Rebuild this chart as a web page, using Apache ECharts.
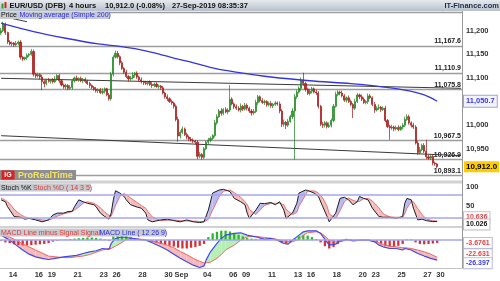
<!DOCTYPE html>
<html><head><meta charset="utf-8">
<script src="https://cdn.jsdelivr.net/npm/echarts@6/dist/echarts.min.js"></script>
<style>html,body{margin:0;padding:0;background:#fff;}#c{width:500px;height:281px;}</style>
</head><body><div id="c"></div>
<script>
// ---------- DATA ----------
const firstOpen = 11195;
const closes = [
11200,11214,11196,11176,11172,11174,11170,11173,11176,11144,
11140,11143,11148,11150,11156,11108,11104,11107,11102,11092,
11088,11095,11093,11096,11092,11098,11105,11094,11085,11081,
11084,11078,11080,11094,11100,11096,11099,11094,11097,11093,
11088,11084,11080,11076,11073,11075,11069,11072,11077,11064,
11056,11108,11144,11152,11145,11132,11120,11112,11103,11098,
11100,11106,11110,11102,11096,11092,11090,11088,11091,11086,
11084,11087,11082,11083,11079,11068,11060,11056,11050,11047,
11040,11012,10977,10985,10992,10980,10975,10970,10968,10966,
10964,10934,10938,10932,10950,10964,10968,10972,10978,11005,
11018,11030,11025,11033,11028,11032,11055,11045,11039,11036,
11032,11040,11034,11042,11036,11030,11026,11029,11048,11060,
11052,11048,11050,11043,11046,11041,11044,11047,11045,11030,
11002,11006,11000,11008,11018,11030,11060,11070,11078,11095,
11088,11076,11067,11072,11077,11070,11068,11040,11002,11000,
11005,10997,11000,11010,11040,11065,11070,11068,11062,11053,
11058,11050,11044,11036,11050,11064,11060,11055,11048,11050,
11062,11058,11044,11032,11036,11038,11033,11036,11010,10997,
10994,10996,10992,10995,10991,10996,11000,11012,11018,11005,
11000,10996,10962,10942,10948,10957,10945,10933,10930,10934,
10920,10918,10912];
const wickUp = [
6,5,3,2,4,3,2,5,3,4, 3,2,4,3,5,4,3,4,3,5,
4,3,5,2,4,6,3,4,2,3, 4,3,5,4,3,5,2,4,3,4,
3,4,2,3,5,3,4,6,3,2, 4,5,4,6,5,3,4,3,5,3,
4,6,3,4,3,5,2,4,3,4, 5,3,4,3,2,4,3,5,3,4,
3,4,6,4,5,3,4,3,5,4, 3,4,5,3,4,3,5,4,3,6,
5,4,6,3,5,4,30,4,3,5, 4,6,3,5,4,3,4,5,6,4,
3,5,4,3,4,5,3,4,3,5, 4,6,3,5,4,6,6,5,4,6,
16,4,3,5,4,3,5,4,3,5, 4,3,6,4,5,6,4,3,5,4,
3,5,4,3,6,4,3,5,4,3, 5,4,3,5,4,6,3,4,5,3,
4,5,3,4,5,3,4,6,5,4, 3,5,4,5,6,4,5,24,4,3,
4,3,2];
const wickDown = [
4,3,5,4,3,5,4,3,4,5, 4,3,5,4,3,5,4,3,5,18,
8,4,3,5,4,3,4,5,3,4, 5,4,3,5,4,3,4,3,5,4,
3,5,4,3,4,5,3,4,5,3, 4,4,5,3,4,5,3,4,3,5,
4,3,5,4,3,4,5,3,4,3, 5,4,3,5,4,3,4,5,3,4,
5,4,12,5,4,3,5,4,3,4, 5,6,4,5,4,3,5,4,3,4,
4,3,5,4,3,5,4,3,5,4, 3,5,4,3,5,4,6,4,3,5,
4,3,5,4,3,4,5,3,4,5, 6,5,8,4,3,5,103,4,3,5,
4,5,3,4,5,3,4,5,4,6, 5,4,3,5,4,3,4,5,3,4,
5,3,4,21,4,3,5,4,3,4, 5,3,4,6,3,4,5,3,4,3,
25,4,5,3,4,3,5,4,3,4, 5,4,3,5,4,3,4,5,3,4,
5,4,3];
const ma200 = [[0,11216],[15,11198],[30,11184],[45,11172],[55,11167],[62,11162],[71,11153],[80,11142],[90,11131],[99,11120],[108,11113],[125,11102],[143,11094],[162,11088],[173,11083],[187,11074],[196,11064],[202,11050.7]];
const levels = [11238.5, 11167.6, 11110.9, 11075.8, 10967.5, 10926.9, 10893.1];
const trendLines = [[[0,11099.2],[213,11078]], [[0,10977.7],[213,10935.4]], [[1,11230],[12,11219]]];

const stochIdx = [0,2,3,5,6,9,11,13,16,19,22,24,26,29,31,33,34,36,38,40,43,44,46,48,50,51,52,53,55,57,58,60,63,65,67,68,70,74,77,80,83,86,89,92,94,96,98,101,103,106,108,111,113,114,115,118,120,122,125,127,129,131,132,135,137,138,141,142,145,147,149,151,152,155,157,159,161,163,165,166,168,170,172,175,177,180,183,186,187,188,190,191,193,195,197,200,202];
const stochK = [67,62,49,32,23,21,16,18,14,9,14,27,32,32,36,37,49,67,62,58,54,49,32,23,16,32,67,91,85,76,67,54,48,45,32,14,9,14,16,12,9,14,9,7,9,40,85,93,95,89,71,62,54,32,18,40,58,57,60,54,62,40,18,32,58,85,93,92,85,76,49,23,9,32,71,74,67,54,62,76,71,67,45,23,21,21,18,23,58,71,67,45,14,16,12,9.5,10.026];
const stochD = [72,66,62,50,42,28,22,19,17,14,13,18,24,30,33,36,40,48,58,62,58,55,46,35,26,24,38,52,76,84,80,72,60,52,45,36,22,12,13,14,12,11,11,10,9,15,40,75,90,93,86,74,62,55,42,28,40,52,58,58,58,54,42,28,34,50,80,90,91,85,72,50,30,18,38,62,72,66,62,63,70,71,64,46,30,22,21,21,30,45,62,62,44,28,16,12,10.636];
const stochLevels = [80, 20];

const macdIdx = [0,4,7,10,13,16,19,22,25,29,32,35,38,41,44,47,50,51,53,56,58,61,64,67,70,74,77,80,83,86,89,92,94,95,97,100,102,104,108,111,114,118,122,125,128,131,133,135,138,140,142,146,148,150,152,155,157,160,163,166,170,173,175,177,180,183,186,187,190,193,196,199,202];
const macdLine = [6.6,0,-6.6,-13,-18.5,-22,-24,-25.5,-24,-22,-21,-20,-17.6,-15.4,-14,-11,-12.3,-4.4,2.2,4.4,3.5,2.2,1,0,-3.5,-8.8,-13,-18.5,-24,-28.6,-33,-36,-34,-26,-15.4,-4.4,2.2,6.6,8.8,9.7,6.6,4.4,1,2.2,0,-4.4,-5.3,0,6.6,11,12.3,12.3,8.8,1,-6.6,-5.3,-0.9,1,-0.9,0,0,-2.2,-6.6,-8.8,-11,-11,-13,-11,-13,-17.6,-21,-24,-26.397];
const macdSignal = [8,4,0,-5,-9,-13,-17,-21,-22,-23,-23,-22,-21,-19,-16,-13,-11,-11,-8,-3,1,1.5,1.5,0.5,-1,-4,-6.6,-10,-15,-19,-24,-28,-30,-30,-29,-24,-19,-13,-6.6,0,4.4,5,3.5,2.5,1,-0.9,-2,-2,1,6.6,9.7,11,9.7,5.3,0,-2.2,-2.2,0,0,0,0,-0.9,-3.5,-5.7,-7.9,-8.8,-10,-10,-11,-13,-15.4,-18.5,-22.631];
const macdHist = [[0,-1],[2,-3],[4,-4],[6,-5.5],[8,-6.5],[10,-7],[12,-7],[14,-6.5],[16,-6],[18,-5.5],[20,-5],[22,-4],[24,-2],[26,-1],[28,0.5],[30,1],[32,1.5],[34,2],[36,2.5],[38,3],[40,3.5],[42,3.5],[44,3],[46,2],[48,1],[50,-1],[52,5],[54,7.5],[56,8],[58,7],[60,4],[62,2.5],[64,1],[66,0.5],[68,-1],[70,-2],[72,-3.5],[74,-5],[76,-6],[78,-7.5],[80,-8.5],[82,-10],[84,-11],[86,-11],[88,-10],[90,-9],[92,-7.5],[94,-5],[96,4],[98,9],[100,11],[102,12.5],[104,12.5],[106,11.5],[108,9],[110,7],[112,5],[114,3],[116,2],[118,1.5],[120,1],[122,0.5],[124,0.5],[126,0],[128,-1],[130,-3],[132,-4.5],[134,-3],[136,2],[138,5],[140,6.5],[142,6],[144,4],[146,1.5],[148,-3],[150,-8],[152,-11],[154,-9],[156,-5],[158,-1],[160,1],[162,1],[164,0.5],[166,-0.5],[168,0.5],[170,1],[172,-1],[174,-3],[176,-5.5],[178,-7.5],[180,-8.5],[182,-8.5],[184,-7.5],[186,-5],[188,1],[190,1],[192,-3],[194,-5],[196,-5.5],[198,-5],[200,-4.5],[202,-3.6761]];

const priceTicks = [10950, 11000, 11100, 11150, 11200];
const stochTicks = [50, 100];
const dayLabels = ['14','16','19','21','23','26','28','30','Sep','04','06','09','11','13','16','18','20','23','25','27','30'];
const dayNumber = [1,3,4,6,8,9,11,13,14,16,18,19,21,23,24,26,28,29,31,33,34];
const lastPrice = 10912.0, maLast = 11050.7, kLast = 10.026, dLast = 10.636;
const macdLast = -26.397, signalLast = -22.631, histLast = -3.6761;
const titleParts = ['EUR/USD (DFB)', '4 hours', '10,912.0 (-0.08%)', '27-Sep-2019 08:35:37'];

// ---------- BUILD ----------
const BARS_PER_DAY = 6;
const X_MIN = -0.5, X_MAX = 213.5;
const fmt = (v, d) => v.toFixed(d).replace(/\B(?=(\d{3})+(?!\d))/g, ',');
const candles = closes.map((c, i) => {
  const o = i ? closes[i - 1] : firstOpen;
  return [i, o, c, Math.min(o, c) - wickDown[i], Math.max(o, c) + wickUp[i]];
});
const zip = (xs, ys) => xs.map((x, i) => [x, ys[i]]);
const tickPos = dayNumber.map(d => d * BARS_PER_DAY - 0.5);
const tickText = {};
tickPos.forEach((p, i) => tickText[p] = dayLabels[i]);

function band(xi, yi, idx, a, b, colA, colB) {
  const data = idx.slice(0, -1).map((x, j) => [x, a[j], j]);
  return {
    type: 'custom', xAxisIndex: xi, yAxisIndex: yi, silent: true, z: 1, animation: false,
    encode: { x: 0, y: 1 }, data,
    renderItem(params, api) {
      const j = api.value(2);
      const x0 = idx[j], x1 = idx[j + 1];
      const a0 = a[j], a1 = a[j + 1], b0 = b[j], b1 = b[j + 1];
      const d0 = a0 - b0, d1 = a1 - b1;
      const P = (x, v) => api.coord([x, v]);
      const polys = [];
      if (d0 * d1 >= 0) {
        polys.push({ pts: [P(x0, a0), P(x1, a1), P(x1, b1), P(x0, b0)], c: (d0 + d1) >= 0 ? colA : colB });
      } else {
        const t = d0 / (d0 - d1);
        const xm = x0 + t * (x1 - x0), vm = a0 + t * (a1 - a0);
        polys.push({ pts: [P(x0, a0), P(xm, vm), P(x0, b0)], c: d0 > 0 ? colA : colB });
        polys.push({ pts: [P(xm, vm), P(x1, a1), P(x1, b1)], c: d1 > 0 ? colA : colB });
      }
      return { type: 'group', children: polys.map(p => ({ type: 'polygon', shape: { points: p.pts }, style: { fill: p.c } })) };
    }
  };
}

function box(val, text, color, bg, border, dy, size) {
  return {
    yAxis: val, lineStyle: { color: 'rgba(0,0,0,0)', width: 0.01, type: 'solid' },
    label: { show: true, position: 'end', formatter: text, color, backgroundColor: bg,
      borderColor: border || bg, borderWidth: border ? 1 : 0,
      padding: [2, 2, 1, 2], fontSize: size || 7.5, fontWeight: 'bold',
      fontFamily: 'Liberation Sans', distance: 2, offset: [0, dy || 0] }
  };
}

const F = 'Liberation Sans';
const txt = (x, y, text, fill, size, weight, align) => ({
  type: 'text', x, y, z: 101,
  style: { text, fill, fontSize: size, fontWeight: weight || 'normal', fontFamily: F,
    textAlign: align || 'left', textVerticalAlign: 'middle' }
});

const chart = echarts.init(document.getElementById('c'), null, { renderer: 'canvas' });
const hiddenX = (g) => ({ type: 'value', gridIndex: g, min: X_MIN, max: X_MAX, show: false, splitLine: { show: false } });

chart.setOption({
  animation: false,
  backgroundColor: '#ffffff',
  grid: [
    { left: 0, top: 11, width: 462, height: 170 },
    { left: 0, top: 187.4, width: 462, height: 37.8 },
    { left: 0, top: 228, width: 462, height: 40.2 }
  ],
  xAxis: [
    hiddenX(0), hiddenX(1),
    { type: 'value', gridIndex: 2, min: X_MIN, max: X_MAX, splitLine: { show: false },
      axisLine: { show: false }, axisTick: { show: false },
      axisLabel: { customValues: tickPos, formatter: v => tickText[v] || '', fontSize: 7.5,
        fontWeight: 'bold', color: '#333', fontFamily: F, margin: 3 } }
  ],
  yAxis: [
    { type: 'value', gridIndex: 0, position: 'right', min: 10881.8, max: 11241.7, scale: true,
      splitLine: { show: false }, axisLine: { show: false }, axisTick: { show: false },
      axisLabel: { customValues: priceTicks, formatter: v => fmt(v, 0), fontSize: 7.5, fontWeight: 'bold',
        color: '#333', fontFamily: F, margin: 4 } },
    { type: 'value', gridIndex: 1, position: 'right', min: 0, max: 100,
      splitLine: { show: false }, axisLine: { show: false }, axisTick: { show: false },
      axisLabel: { customValues: stochTicks, fontSize: 7.5, fontWeight: 'bold', color: '#333', fontFamily: F, margin: 4 } },
    { type: 'value', gridIndex: 2, position: 'right', min: -37, max: 16, show: false, splitLine: { show: false } }
  ],
  series: [
    {
      type: 'candlestick', xAxisIndex: 0, yAxisIndex: 0, data: candles,
      encode: { x: 0, y: [1, 2, 3, 4] }, barWidth: 1.6, z: 3,
      itemStyle: { color: '#2bb02b', color0: '#d42222', borderColor: '#1d7d1d', borderColor0: '#9e1616', borderWidth: 0.7 },
      markLine: {
        symbol: 'none', silent: true, animation: false, z: 2,
        data: [
          ...levels.map(l => ({ yAxis: l, lineStyle: { color: '#9d9d9d', width: 1.3, type: 'solid' },
            label: { show: true, position: 'insideEndTop', formatter: fmt(l, 1), fontSize: 7, color: '#222',
              fontWeight: 'bold', fontFamily: F, distance: 1 } })),
          ...trendLines.map(t => [
            { coord: t[0], lineStyle: { color: '#3a3a3a', width: 1, type: 'solid' }, label: { show: false } },
            { coord: t[1], lineStyle: { color: '#3a3a3a', width: 1, type: 'solid' }, label: { show: false } }
          ])
        ]
      }
    },
    {
      type: 'line', xAxisIndex: 0, yAxisIndex: 0, data: ma200, smooth: 0.3, showSymbol: false, z: 4,
      lineStyle: { color: '#3535dd', width: 1.3 },
      markLine: { symbol: 'none', silent: true, animation: false, z: 10, data: [
        box(maLast, fmt(maLast, 1), '#3a3ae0', '#f2f3ff', '#9fa3d6', 0, 7.5),
        box(lastPrice, fmt(lastPrice, 1), '#000', '#ffcc00', null, 0, 8)
      ] }
    },
    band(1, 1, stochIdx, stochK, stochD, '#b9b9f3', '#f6bcbc'),
    {
      type: 'line', xAxisIndex: 1, yAxisIndex: 1, data: zip(stochIdx, stochD), showSymbol: false, z: 3,
      lineStyle: { color: '#e77575', width: 1 },
      markLine: { symbol: 'none', silent: true, animation: false, data: [
        ...stochLevels.map(v => ({ yAxis: v, lineStyle: { color: '#a4a4f2', width: 1.6, type: 'solid' }, label: { show: false } })),
        box(dLast, dLast.toFixed(3), '#e04040', '#ffffff', '#c0c0c8', -4, 7)
      ] }
    },
    {
      type: 'line', xAxisIndex: 1, yAxisIndex: 1, data: zip(stochIdx, stochK), showSymbol: false, z: 4,
      lineStyle: { color: '#1e1e1e', width: 1 },
      markLine: { symbol: 'none', silent: true, animation: false, data: [box(kLast, kLast.toFixed(3), '#111', '#ffffff', '#c0c0c8', 3, 7)] }
    },
    band(2, 2, macdIdx, macdLine, macdSignal, '#b6efb6', '#f5b9b9'),
    {
      type: 'bar', xAxisIndex: 2, yAxisIndex: 2, data: macdHist, barWidth: 2.3, z: 2,
      itemStyle: { color: p => p.value[1] >= 0 ? '#2cb52c' : '#d83030' },
      markLine: { symbol: 'none', silent: true, animation: false, data: [
        { yAxis: 0, lineStyle: { color: '#a4a4f2', width: 1.6, type: 'solid' }, label: { show: false } },
        box(histLast, histLast.toFixed(4), '#e04040', '#ffffff', '#b8bcd8', 0, 7)
      ] }
    },
    {
      type: 'line', xAxisIndex: 2, yAxisIndex: 2, data: zip(macdIdx, macdSignal), showSymbol: false, z: 3,
      lineStyle: { color: '#e86a6a', width: 1 },
      markLine: { symbol: 'none', silent: true, animation: false, data: [box(signalLast, signalLast.toFixed(3), '#e04040', '#ffffff', '#b8bcd8', -3, 7)] }
    },
    {
      type: 'line', xAxisIndex: 2, yAxisIndex: 2, data: zip(macdIdx, macdLine), showSymbol: false, z: 4,
      lineStyle: { color: '#4646ee', width: 1.2 },
      markLine: { symbol: 'none', silent: true, animation: false, data: [box(macdLast, macdLast.toFixed(3), '#3a3ae0', '#ffffff', '#b8bcd8', 3, 7)] }
    }
  ],
  graphic: [
    { type: 'rect', z: 50, shape: { x: 0, y: 180.5, width: 462, height: 3 }, style: { fill: '#d2d2d2' } },
    { type: 'rect', z: 50, shape: { x: 0, y: 226, width: 462, height: 2 }, style: { fill: '#d2d2d2' } },
    { type: 'line', z: 50, shape: { x1: 0, y1: 268.5, x2: 462, y2: 268.5 }, style: { stroke: '#c4c4c4', lineWidth: 1 } },
    { type: 'line', z: 50, shape: { x1: 462.5, y1: 11, x2: 462.5, y2: 268.5 }, style: { stroke: '#9a9a9a', lineWidth: 1 } },
    { type: 'rect', z: 100, shape: { x: 0, y: 0, width: 500, height: 11 },
      style: { fill: { type: 'linear', x: 0, y: 0, x2: 0, y2: 1, colorStops: [{ offset: 0, color: '#e6eaee' }, { offset: 1, color: '#b7c0ca' }] } } },
    { type: 'rect', z: 101, shape: { x: 1.5, y: 3.5, width: 2, height: 5 }, style: { fill: '#22aa22' } },
    { type: 'rect', z: 101, shape: { x: 4.5, y: 2, width: 2, height: 6 }, style: { fill: '#dd2222' } },
    txt(9.5, 5.8, titleParts[0], '#111', 7.5, 'bold'),
    txt(69, 5.8, titleParts[1], '#111', 7.5, 'bold'),
    txt(105, 5.8, titleParts[2], '#111', 7.5, 'bold'),
    txt(172, 5.8, titleParts[3], '#111', 7.5, 'bold'),
    txt(499, 5.8, 'IT-Finance.com', '#1b2b4b', 7.5, 'bold', 'right'),
    { type: 'rect', z: 100, shape: { x: 0, y: 11.5, width: 110, height: 7.5 }, style: { fill: '#c7cbd0' } },
    txt(1, 15.3, 'Price', '#111', 7),
    txt(19.5, 15.3, 'Moving average (Simple 200)', '#2a2ae0', 7),
    { type: 'rect', z: 100, shape: { x: 0, y: 170, width: 76, height: 10 }, style: { fill: '#8e8e8e' } },
    { type: 'rect', z: 101, shape: { x: 1.5, y: 170.5, width: 13, height: 9 }, style: { fill: '#dd2020' } },
    txt(8, 175.2, 'IG', '#ffffff', 7, 'bold', 'center'),
    txt(18, 175.2, 'ProRealTime', '#f3e26a', 9, 'bold'),
    { type: 'rect', z: 100, shape: { x: 0, y: 183.5, width: 91, height: 8 }, style: { fill: '#c7cbd0' } },
    txt(1, 187.6, 'Stoch %K', '#111', 7),
    txt(33, 187.6, 'Stoch %D ( 14 3 5)', '#e03a3a', 7),
    { type: 'rect', z: 100, shape: { x: 0, y: 228.5, width: 166, height: 8 }, style: { fill: '#c7cbd0' } },
    txt(1, 232.6, 'MACD Line minus Signal Signal', '#e03a3a', 7),
    txt(99.5, 232.6, 'MACD Line ( 12 26 9)', '#2a2ae0', 7)
  ]
});
</script></body></html>
